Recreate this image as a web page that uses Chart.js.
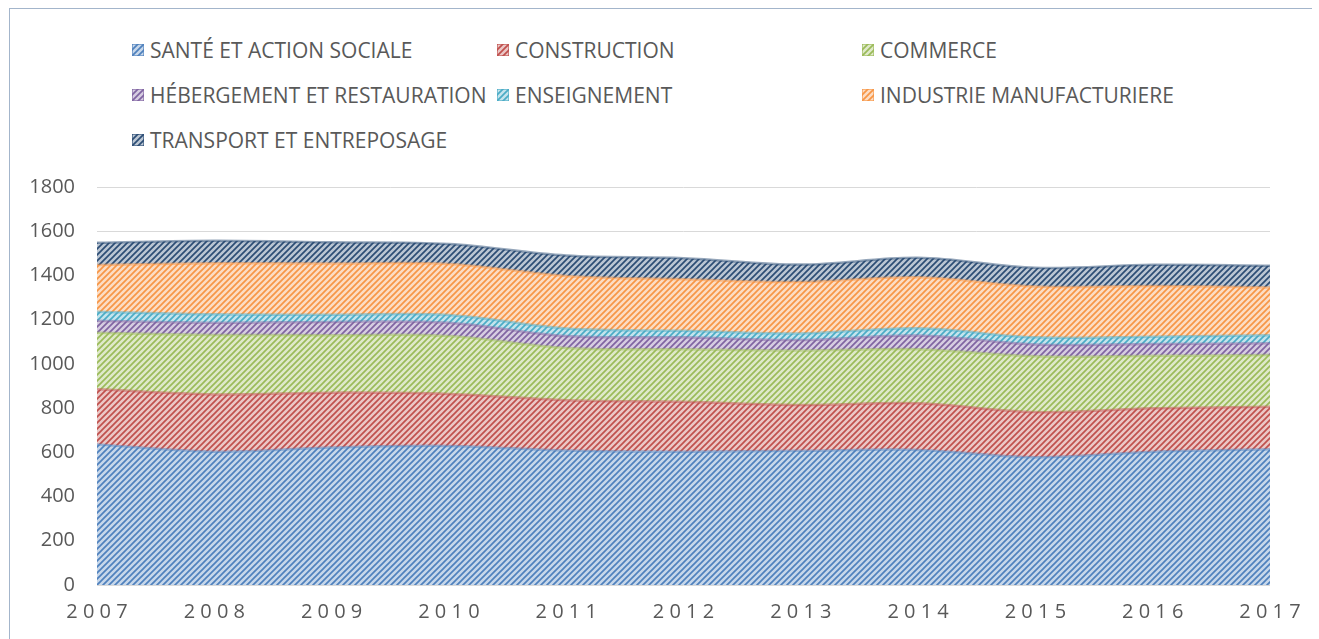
<!DOCTYPE html>
<html lang="fr">
<head>
<meta charset="utf-8">
<title>Emplois par secteur 2007-2017</title>
<script src="https://cdn.jsdelivr.net/npm/chart.js@4.4.1/dist/chart.umd.min.js"></script>
<style>
  body { margin: 0; background: #fff; font-family: "Open Sans", sans-serif; }
  #frame { position: absolute; left: 9px; top: 8px; width: 1302px; height: 640px;
           border-left: 1px solid #a3b5cb; border-top: 1px solid #a3b5cb; }
  #wrap { position: absolute; left: 0; top: 160px; width: 1319px; height: 479px; }
  #legend { position: absolute; left: 0; top: 0; width: 1319px; height: 160px; }
  .item { position: absolute; display: flex; align-items: center; height: 24px;
          font-size: 21px; color: #595959; white-space: nowrap; }
  .item canvas { width: 12px; height: 12px; margin-right: 6px; }
</style>
</head>
<body>
<div id="frame"></div>
<div id="legend"></div>
<div id="wrap"><canvas id="areaChart"></canvas></div>
<script>
  const years = ['2007', '2008', '2009', '2010', '2011', '2012', '2013', '2014', '2015', '2016', '2017'];

  const sante        = [636, 603, 622, 629, 608, 603, 607, 611, 578, 603, 614];
  const construction = [249, 259, 248, 235, 228, 226, 207, 211, 204, 196, 192];
  const commerce     = [256, 269, 260, 262, 236, 237, 246, 244, 252, 238, 234];
  const hebergement  = [54, 55, 60, 60, 54, 54, 48, 62, 54, 53, 53];
  const enseignement = [41, 38, 32, 35, 34, 30, 30, 33, 32, 33, 36];
  const industrie    = [211, 231, 232, 231, 238, 233, 232, 231, 230, 229, 217];
  const transport    = [101, 102, 96, 90, 92, 95, 79, 88, 85, 96, 98];

  const seriesNames = ['SANTÉ ET ACTION SOCIALE', 'CONSTRUCTION', 'COMMERCE',
    'HÉBERGEMENT ET RESTAURATION', 'ENSEIGNEMENT', 'INDUSTRIE MANUFACTURIERE',
    'TRANSPORT ET ENTREPOSAGE'];
  const seriesValues = [sante, construction, commerce, hebergement, enseignement, industrie, transport];
  const seriesColors = ['#4F81BD', '#C0504D', '#9BBB59', '#8064A2', '#4BACC6', '#F79646', '#2C4D75'];

  const yMax = 1800;
  const yStep = 200;

  function hexToRgb(hex) {
    const n = parseInt(hex.slice(1), 16);
    return [(n >> 16) & 255, (n >> 8) & 255, n & 255];
  }

  function tint(hex, amount) {
    const c = hexToRgb(hex).map(v => Math.round(v + (255 - v) * amount));
    return 'rgb(' + c.join(',') + ')';
  }

  function alpha(hex, a) {
    return 'rgba(' + hexToRgb(hex).join(',') + ',' + a + ')';
  }

  // diagonal hatch fill, stripes going up to the right
  function hatch(color) {
    const size = 6;
    const c = document.createElement('canvas');
    c.width = size;
    c.height = size;
    const g = c.getContext('2d');
    g.fillStyle = tint(color, 0.68);
    g.fillRect(0, 0, size, size);
    g.strokeStyle = color;
    g.lineWidth = 1.7;
    g.beginPath();
    g.moveTo(0, size); g.lineTo(size, 0);
    g.moveTo(-1, 1); g.lineTo(1, -1);
    g.moveTo(size - 1, size + 1); g.lineTo(size + 1, size - 1);
    g.stroke();
    return c;
  }

  const ctx = document.getElementById('areaChart').getContext('2d');

  const datasets = seriesValues.map(function(values, i) {
    return {
      label: seriesNames[i],
      data: values,
      backgroundColor: ctx.createPattern(hatch(seriesColors[i]), 'repeat'),
      borderColor: alpha(seriesColors[i], 0.5),
      borderWidth: 2.5,
      fill: i === 0 ? 'origin' : '-1',
      pointRadius: 0,
      tension: 0.35
    };
  });

  const chart = new Chart(ctx, {
    type: 'line',
    data: { labels: years, datasets: datasets },
    options: {
      responsive: true,
      maintainAspectRatio: false,
      animation: false,
      layout: { padding: { left: 0, right: 49, top: 0, bottom: 0 } },
      plugins: {
        legend: { display: false },
        tooltip: { enabled: false }
      },
      scales: {
        x: {
          grid: { display: false, drawTicks: false },
          border: { display: false },
          ticks: {
            padding: 15,
            color: '#595959',
            font: { family: 'Open Sans', size: 20 },
            maxRotation: 0,
            autoSkip: false,
            callback: function(value, index) {
              return years[index].split('').join(' ');
            }
          },
          afterFit: function(scale) { scale.height = 54; }
        },
        y: {
          stacked: true,
          min: 0,
          max: yMax,
          grid: { color: '#d9d9d9', lineWidth: 1, drawTicks: false },
          border: { display: false },
          ticks: {
            stepSize: yStep,
            padding: 22,
            color: '#595959',
            font: { family: 'Open Sans', size: 20 },
            callback: function(value) { return String(value); }
          },
          afterFit: function(scale) {
            scale.width = 97;
            scale.paddingTop = 27;
            scale.paddingBottom = 0;
          }
        }
      }
    }
  });

  // legend in three columns, swatches use the same hatch as the areas
  const legend = document.getElementById('legend');
  const colX = [132, 497, 862];
  const rowY = [50, 95, 140];
  chart.data.datasets.forEach(function(ds, i) {
    const item = document.createElement('div');
    item.className = 'item';
    item.style.left = colX[i % 3] + 'px';
    item.style.top = (rowY[Math.floor(i / 3)] - 12) + 'px';
    const sw = document.createElement('canvas');
    sw.width = 12;
    sw.height = 12;
    const s = sw.getContext('2d');
    s.fillStyle = s.createPattern(hatch(seriesColors[i]), 'repeat');
    s.fillRect(0, 0, 12, 12);
    s.strokeStyle = alpha(seriesColors[i], 0.6);
    s.strokeRect(0.5, 0.5, 11, 11);
    item.appendChild(sw);
    const label = document.createElement('span');
    label.textContent = ds.label;
    item.appendChild(label);
    legend.appendChild(item);
  });
</script>
</body>
</html>
